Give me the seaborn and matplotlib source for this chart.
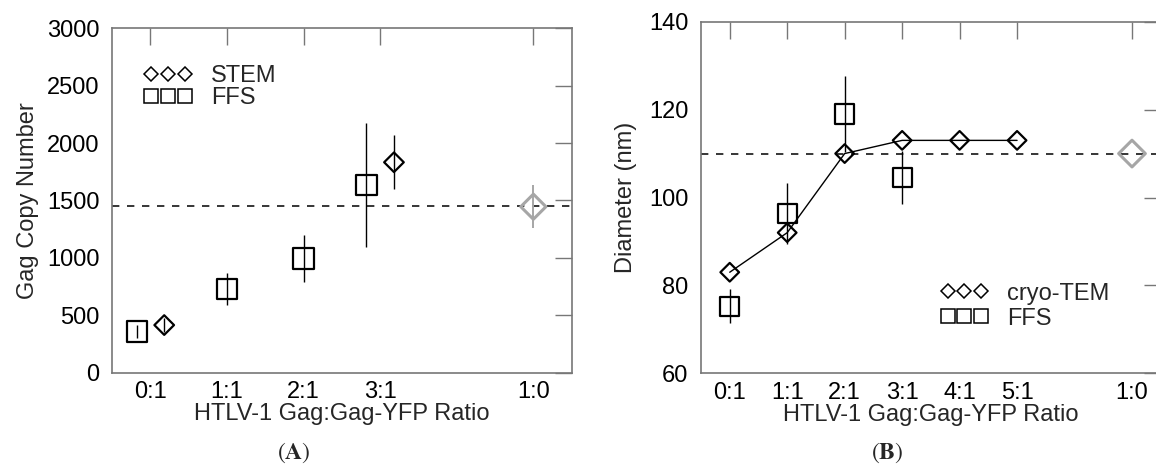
import numpy as np
import pandas as pd
import matplotlib.pyplot as plt
import seaborn as sns
from matplotlib.lines import Line2D

# panel A - Gag copy number per particle
ratio_labels_a = ['0:1', '1:1', '2:1', '3:1', '1:0']
ratio_pos_a = [0, 1, 2, 3, 5]
stem_pos = [0, 3]
stem_copy = [415, 1833]
stem_copy_err = [60, 235]
ffs_pos_a = [0, 1, 2, 3]
ffs_copy = [360, 728, 995, 1635]
ffs_copy_err = [55, 138, 206, 536]
wt_pos_a = [5]
wt_copy = [1446]
wt_copy_err = [186]

# panel B - particle diameter
ratio_labels_b = ['0:1', '1:1', '2:1', '3:1', '4:1', '5:1', '1:0']
ratio_pos_b = [0, 1, 2, 3, 4, 5, 7]
cryo_pos = [0, 1, 2, 3, 4, 5]
cryo_diam = [83, 92, 110, 113, 113, 113]
ffs_pos_b = [0, 1, 2, 3]
ffs_diam = [75.3, 96.4, 119, 104.5]
ffs_diam_err = [3.9, 7, 8.6, 6]
wt_pos_b = [7]
wt_diam = [110]

sns.set_style('white')
plt.rcParams['font.family'] = ['Liberation Sans', 'DejaVu Sans']
plt.rcParams['mathtext.fontset'] = 'stix'
FS = 17
GRAY = '#a6a6a6'
SPINE = '#777777'
DODGE = 0.18

fig = plt.figure(figsize=(11.56, 4.66), dpi=100)
ax_a = fig.add_axes([0.0970, 0.2002, 0.3975, 0.7391])
ax_b = fig.add_axes([0.6064, 0.1989, 0.3977, 0.7545])


def style_axes(ax):
    for s in ax.spines.values():
        s.set_visible(True)
        s.set_color(SPINE)
        s.set_linewidth(1.2)
    ax.tick_params(direction='in', length=12, width=1.0, color=SPINE,
                   top=True, right=True, labelsize=FS, labelcolor='black')
    ax.tick_params(axis='x', pad=6)
    ax.tick_params(axis='y', pad=9)
    ax.grid(False)


def dashed_ref(ax, y):
    lw = 1.1
    ax.axhline(y, color='black', lw=lw, linestyle=(0, (5.3 / lw, 5.5 / lw)), zorder=1)


def open_markers(ax, x, y, marker, size, color='black', lw=1.6):
    sns.scatterplot(x=x, y=y, marker=marker, s=size ** 2, facecolors='none',
                    edgecolor=color, linewidth=lw, ax=ax, zorder=4)


def legend_handles():
    return [Line2D([], [], ls='none', marker='D', ms=7.0, mfc='none', mec='black', mew=1.1),
            Line2D([], [], ls='none', marker='s', ms=10.3, mfc='none', mec='black', mew=1.1)]


# ---- panel A ----
both = set(stem_pos) & set(ffs_pos_a)
stem_x = [p + DODGE if p in both else p for p in stem_pos]
ffs_x_a = [p - DODGE if p in both else p for p in ffs_pos_a]

dashed_ref(ax_a, 1450)
ax_a.errorbar(ffs_x_a, ffs_copy, yerr=ffs_copy_err, fmt='none', ecolor='black', elinewidth=1.0, zorder=2)
ax_a.errorbar(stem_x, stem_copy, yerr=stem_copy_err, fmt='none', ecolor='black', elinewidth=1.0, zorder=2)
ax_a.errorbar(wt_pos_a, wt_copy, yerr=wt_copy_err, fmt='none', ecolor=GRAY, elinewidth=1.4, zorder=2)
open_markers(ax_a, ffs_x_a, ffs_copy, 's', 14.6)
open_markers(ax_a, stem_x, stem_copy, 'D', 10)
open_markers(ax_a, wt_pos_a, wt_copy, 'D', 12.8, color=GRAY, lw=2.2)

style_axes(ax_a)
ax_a.set_xlim(-0.5, 5.5)
ax_a.set_ylim(0, 3000)
ax_a.set_xticks(ratio_pos_a, ratio_labels_a)
ax_a.set_yticks(np.arange(0, 3001, 500))
ax_a.set_xlabel('HTLV-1 Gag:Gag-YFP Ratio', fontsize=FS, labelpad=0)
ax_a.set_ylabel('Gag Copy Number', fontsize=FS, labelpad=6)

ax_a.legend(legend_handles(), ['STEM', 'FFS'], numpoints=3, handlelength=2.03, handletextpad=0.8,
            labelspacing=0.0, borderpad=0, borderaxespad=0, frameon=False, fontsize=FS,
            loc='upper left', bbox_to_anchor=(0.069, 0.893))

# ---- panel B ----
dashed_ref(ax_b, 110)
sns.lineplot(x=cryo_pos, y=cryo_diam, color='black', linewidth=1.0, ax=ax_b, zorder=2)
ax_b.errorbar(ffs_pos_b, ffs_diam, yerr=ffs_diam_err, fmt='none', ecolor='black', elinewidth=1.0, zorder=2)
open_markers(ax_b, ffs_pos_b, ffs_diam, 's', 13.75)
open_markers(ax_b, cryo_pos, cryo_diam, 'D', 9.5)
open_markers(ax_b, wt_pos_b, wt_diam, 'D', 13.6, color=GRAY, lw=2.2)

style_axes(ax_b)
ax_b.set_xlim(-0.5, 7.5)
ax_b.set_ylim(60, 140)
ax_b.set_xticks(ratio_pos_b, ratio_labels_b)
ax_b.set_yticks(np.arange(60, 141, 20))
ax_b.set_xlabel('HTLV-1 Gag:Gag-YFP Ratio', fontsize=FS, labelpad=0)
ax_b.set_ylabel('Diameter (nm)', fontsize=FS, labelpad=9)

ax_b.legend(legend_handles(), ['cryo-TEM', 'FFS'], numpoints=3, handlelength=2.03, handletextpad=0.8,
            labelspacing=0.13, borderpad=0, borderaxespad=0, frameon=False, fontsize=FS,
            loc='upper left', bbox_to_anchor=(0.521, 0.258))

# panel letters
fig.text(293.8 / 1156, 1 - 453 / 466, r'$(\mathbf{A})$', ha='center', va='center', fontsize=17)
fig.text(887.5 / 1156, 1 - 453 / 466, r'$(\mathbf{B})$', ha='center', va='center', fontsize=17)

fig.savefig('out.png', dpi=100)
